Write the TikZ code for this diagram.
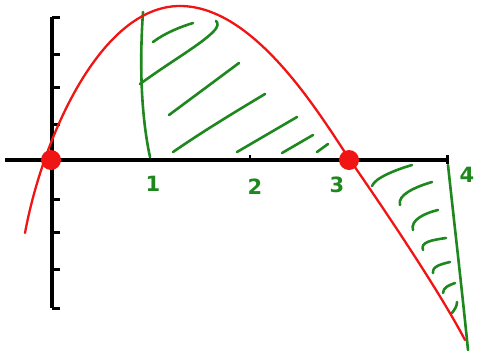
\documentclass[tikz,border=0pt]{standalone}
\usepackage{fontspec}
\setmainfont{DejaVu Sans}
\definecolor{pen}{RGB}{30,135,30}
\definecolor{curvecol}{RGB}{240,20,20}
\begin{document}
\begin{tikzpicture}[x=1pt,y=-1pt,
  axisline/.style={line width=4.5pt},
  axtick/.style={line width=3pt},
  curv/.style={curvecol, line width=2.3pt, line cap=round, line join=round},
  hatch/.style={pen, line width=2.6pt, line cap=round, line join=round},
  lab/.style={text=pen, font=\fontsize{21}{21}\selectfont\bfseries, inner sep=0pt},
  rootdot/.style={circle, fill=curvecol, minimum size=20pt, inner sep=0pt}]
\useasboundingbox (0,0) rectangle (477,354);
% axes
\draw[axisline] (5,160) -- (448,160);
\draw[axisline] (52,17) -- (52,308);
\foreach \yy in {17,54,87,124,199,232,269,308}
  \draw[axtick] (52,\yy) -- (60,\yy);
\foreach \xx in {150,250}
  \draw[line width=2pt] (\xx,160) -- (\xx,155);
\draw[axtick] (447,164) -- (447,155);
% green boundary lines
\draw[hatch] (143,12) .. controls (139,70) and (142,120) .. (150,157);
\draw[hatch] (448,165) .. controls (455,230) and (462,290) .. (468,350);
% hatches left region
\draw[hatch] (153,42) .. controls (165,33) and (180,27) .. (193,23);
\draw[hatch] (140,84) .. controls (170,62) and (200,45) .. (213,32) .. controls (219,26) and (218,23) .. (216,21);
\draw[hatch] (169,115) -- (239,63);
\draw[hatch] (173,152) .. controls (205,130) and (235,112) .. (265,94);
\draw[hatch] (237,152) -- (297,117);
\draw[hatch] (282,153) -- (313,135);
\draw[hatch] (317,152) -- (328,144);
% hatches right region
\draw[hatch] (372,186) .. controls (375,178) and (395,170) .. (412,165);
\draw[hatch] (400,205) .. controls (397,195) and (415,187) .. (432,182);
\draw[hatch] (413,230) .. controls (410,220) and (425,213) .. (438,210);
\draw[hatch] (423,250) .. controls (420,242) and (432,240) .. (446,238);
\draw[hatch] (433,273) .. controls (432,266) and (442,264) .. (450,262);
\draw[hatch] (443,293) .. controls (443,287) and (450,285) .. (455,283);
\draw[hatch] (452,313) .. controls (455,309) and (457,306) .. (457,302);
% red curve
\coordinate (cstart) at (25,233);
\coordinate (cpeak) at (180,6);
\coordinate (croot) at (350,160);
\coordinate (cend) at (465,340);
\draw[curv] (cstart) .. controls (42,140) and (100,6) .. (cpeak)
  .. controls (255,6) and (320,115) .. (croot)
  .. controls (382,206) and (440,292) .. (cend);
% roots
\node[rootdot] (r0) at (51,160) {};
\node[rootdot] (r3) at (349,160) {};
% labels
\node[lab] (l1) at (153,184) {1};
\node[lab] (l2) at (255,187) {2};
\node[lab] (l3) at (337,185) {3};
\node[lab] (l4) at (467,175) {4};
\end{tikzpicture}
\end{document}
